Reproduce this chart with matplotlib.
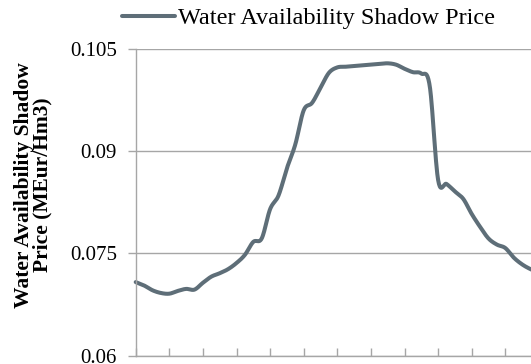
import numpy as np
import matplotlib.pyplot as plt

# weekly shadow price of water availability (MEur/Hm3)
weeks = list(range(49))
shadow_price = [
    0.0708, 0.0703, 0.0696, 0.0692, 0.0691, 0.0695, 0.0698, 0.0697,
    0.0707, 0.0716, 0.0721, 0.0727, 0.0736, 0.0748, 0.0767, 0.0772,
    0.0815, 0.0835, 0.0875, 0.0910, 0.0960, 0.0971, 0.0993, 0.1015,
    0.1023, 0.1024, 0.1025, 0.1026, 0.1027, 0.1028, 0.1029, 0.1027,
    0.1021, 0.1016, 0.1014, 0.0996, 0.0858, 0.0852, 0.0841, 0.0830,
    0.0808, 0.0789, 0.0772, 0.0763, 0.0758, 0.0744, 0.0734, 0.0727,
    0.0722,
]
y_ticks = [0.06, 0.075, 0.09, 0.105]
y_ticklabels = ["0.06", "0.075", "0.09", "0.105"]
series_name = "Water Availability Shadow Price"


def smooth(x, y, n=20):
    # Catmull-Rom curve through the points, like a spreadsheet "smoothed line"
    x = np.asarray(x, float)
    y = np.asarray(y, float)
    px = np.concatenate([[2 * x[0] - x[1]], x, [2 * x[-1] - x[-2]]])
    py = np.concatenate([[2 * y[0] - y[1]], y, [2 * y[-1] - y[-2]]])
    t = np.linspace(0, 1, n, endpoint=False)
    xs, ys = [], []
    for i in range(1, len(px) - 2):
        for p, out in ((px, xs), (py, ys)):
            p0, p1, p2, p3 = p[i - 1], p[i], p[i + 1], p[i + 2]
            out.append(0.5 * (2 * p1 + (-p0 + p2) * t
                              + (2 * p0 - 5 * p1 + 4 * p2 - p3) * t ** 2
                              + (-p0 + 3 * p1 - 3 * p2 + p3) * t ** 3))
    xs.append([x[-1]])
    ys.append([y[-1]])
    return np.concatenate(xs), np.concatenate(ys)


plt.rcParams['font.family'] = ['Liberation Serif', 'DejaVu Serif']

W, H = 531, 364
fig = plt.figure(figsize=(W / 100, H / 100), dpi=100)
ax = fig.add_axes([135.7 / W, 8.3 / H, 436.8 / W, 306.7 / H])

line_color = '#5e6e78'
grid_color = '#a6a6a6'

sx, sy = smooth(weeks, shadow_price)
ax.plot(sx, sy, color=line_color, lw=2.9, solid_capstyle='round',
        label=series_name, clip_on=False)

ax.set_xlim(0, 52)
ax.set_ylim(0.06, 0.105)
ax.set_xticks(range(0, 53, 4))
ax.set_xticklabels([])
ax.set_yticks(y_ticks)
ax.set_yticklabels(y_ticklabels, fontsize=15)
ax.yaxis.grid(True, color=grid_color, lw=1)
ax.set_axisbelow(True)

for side in ['top', 'right']:
    ax.spines[side].set_visible(False)
for side in ['left', 'bottom']:
    ax.spines[side].set_color(grid_color)
    ax.spines[side].set_linewidth(1)
ax.tick_params(axis='y', length=5.5, width=1, color=grid_color, pad=8)
ax.tick_params(axis='x', direction='in', length=5.5, width=1, color=grid_color)

fig.text(33 / W, 1 - 185 / H, "Water Availability Shadow\nPrice (MEur/Hm3)",
         rotation=90, ha='center', va='center', multialignment='center',
         fontsize=15.5, fontweight='bold', linespacing=0.92)

fig.legend(loc='center left', bbox_to_anchor=(121.7 / W, 1 - 18 / H),
           frameon=False, fontsize=17.5, handlelength=2.2, handletextpad=0.12,
           borderpad=0, borderaxespad=0)

fig.savefig('out.png', dpi=100)
